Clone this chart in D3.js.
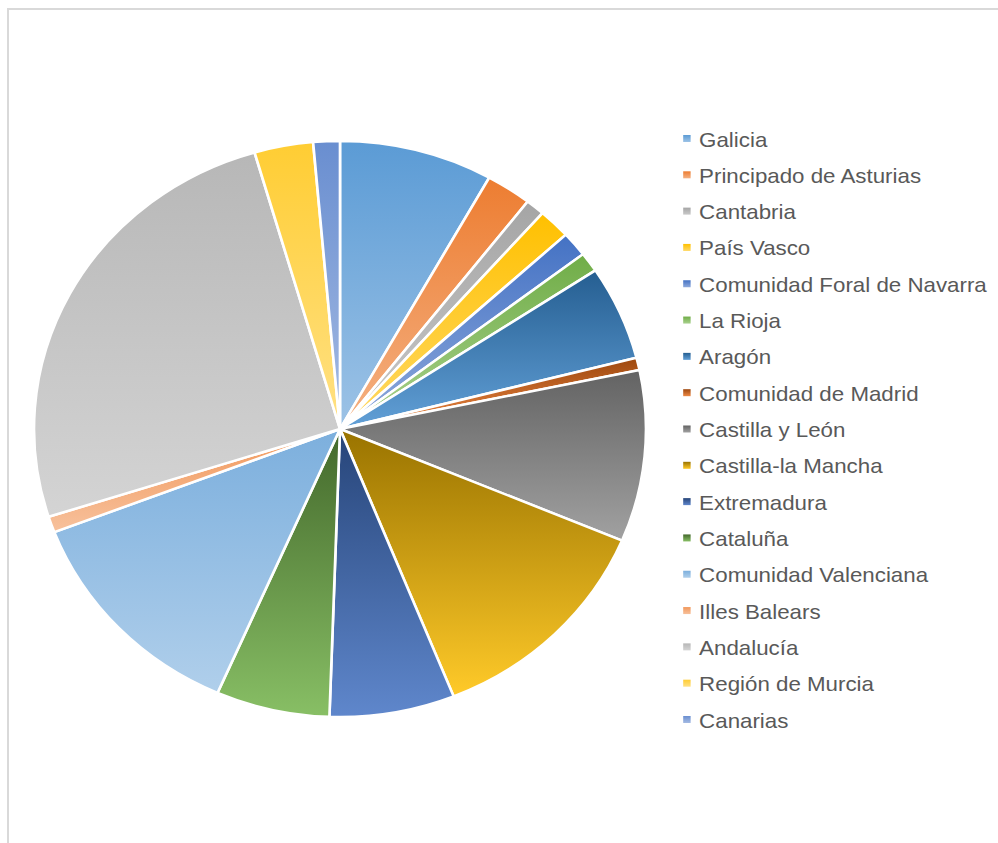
<!DOCTYPE html>
<html>
<head>
<meta charset="utf-8">
<script src="https://cdn.jsdelivr.net/npm/d3@7"></script>
<style>
    body { margin: 0; background: #fff; }
    .legend-label { font-family: 'Liberation Sans', Arial, sans-serif; font-size: 21px; fill: #595959; }
</style>
</head>
<body>
<div class="pie-container"></div>
<script>
const regions = [
    'Galicia', 'Principado de Asturias', 'Cantabria', 'País Vasco',
    'Comunidad Foral de Navarra', 'La Rioja', 'Aragón', 'Comunidad de Madrid',
    'Castilla y León', 'Castilla-la Mancha', 'Extremadura', 'Cataluña',
    'Comunidad Valenciana', 'Illes Balears', 'Andalucía', 'Región de Murcia', 'Canarias',
];
const shares = [8.1, 2.4, 1.0, 1.7, 1.4, 1.1, 5.3, 0.7, 9.6, 12.6, 6.6, 6.0, 12.6, 0.9, 25.4, 3.1, 1.4];
const palette = [
    '#5b9bd5', '#ed7d31', '#a5a5a5', '#ffc000', '#4472c4', '#70ad47',
    '#255e91', '#9e480e', '#636363', '#997300', '#264478', '#43682b',
    '#7cafdd', '#f1975a', '#b7b7b7', '#ffcd33', '#698ed0',
];

class PieChart {
    constructor() {
        this.container = document.querySelector('.pie-container');
        this.width = 998;
        this.height = 843;
        // the picture is a bit wider than tall, so everything gets stretched on x
        this.stretch = 1.0625;
        this.radius = 288;
        this.center = { x: 320, y: 429 };

        this.appendSVG();
        this.addGradients();
        this.addSlices();
        this.addLegend();
    }

    appendSVG() {
        this.root = d3.select(this.container)
            .append('svg')
            .attr('width', this.width)
            .attr('height', this.height);

        // chart area border (runs off the right and bottom edge)
        this.root.append('rect')
            .attr('x', 8)
            .attr('y', 9)
            .attr('width', 1200)
            .attr('height', 1200)
            .attr('fill', 'none')
            .attr('stroke', '#d9d9d9')
            .attr('stroke-width', 2);

        this.svg = this.root.append('g')
            .attr('transform', `scale(${this.stretch}, 1)`);
    }

    addGradients() {
        const defs = this.root.append('defs');
        palette.forEach((c, i) => {
            // darker colours get a stronger fade towards the bottom
            const light = d3.hsl(c);
            light.l = light.l + 0.4 * (1 - light.l);
            const grad = defs.append('linearGradient')
                .attr('id', `grad-${i}`)
                .attr('x1', 0).attr('y1', 0)
                .attr('x2', 0).attr('y2', 1);
            grad.append('stop').attr('offset', '0%').attr('stop-color', c);
            grad.append('stop').attr('offset', '100%').attr('stop-color', light.formatHex());
        });
    }

    addSlices() {
        const pie = d3.pie()
            .sort(null)
            .value((d) => d.value);

        const arc = d3.arc()
            .innerRadius(0)
            .outerRadius(this.radius);

        const data = regions.map((name, i) => ({ name, value: shares[i], index: i }));

        this.svg.append('g')
            .attr('class', 'slices')
            .attr('transform', `translate(${this.center.x}, ${this.center.y})`)
            .selectAll('.slice')
            .data(pie(data))
            .enter()
            .append('path')
            .attr('class', 'slice')
            .attr('d', arc)
            .attr('fill', (d) => `url(#grad-${d.data.index})`)
            .attr('stroke', '#fff')
            .attr('stroke-width', 2.5)
            .attr('stroke-linejoin', 'round');
    }

    addLegend() {
        const y = d3.scalePoint()
            .domain(regions)
            .range([139, 720]);

        const items = this.svg.append('g')
            .attr('class', 'legend')
            .selectAll('.legend-item')
            .data(regions)
            .enter()
            .append('g')
            .attr('class', 'legend-item')
            .attr('transform', (d) => `translate(643, ${y(d)})`);

        items.append('rect')
            .attr('x', 0)
            .attr('y', -4)
            .attr('width', 7)
            .attr('height', 7)
            .attr('fill', (d, i) => `url(#grad-${i})`);

        items.append('text')
            .attr('class', 'legend-label')
            .attr('x', 15)
            .attr('y', 7.5)
            .text((d) => d);
    }
}

new PieChart();
</script>
</body>
</html>
